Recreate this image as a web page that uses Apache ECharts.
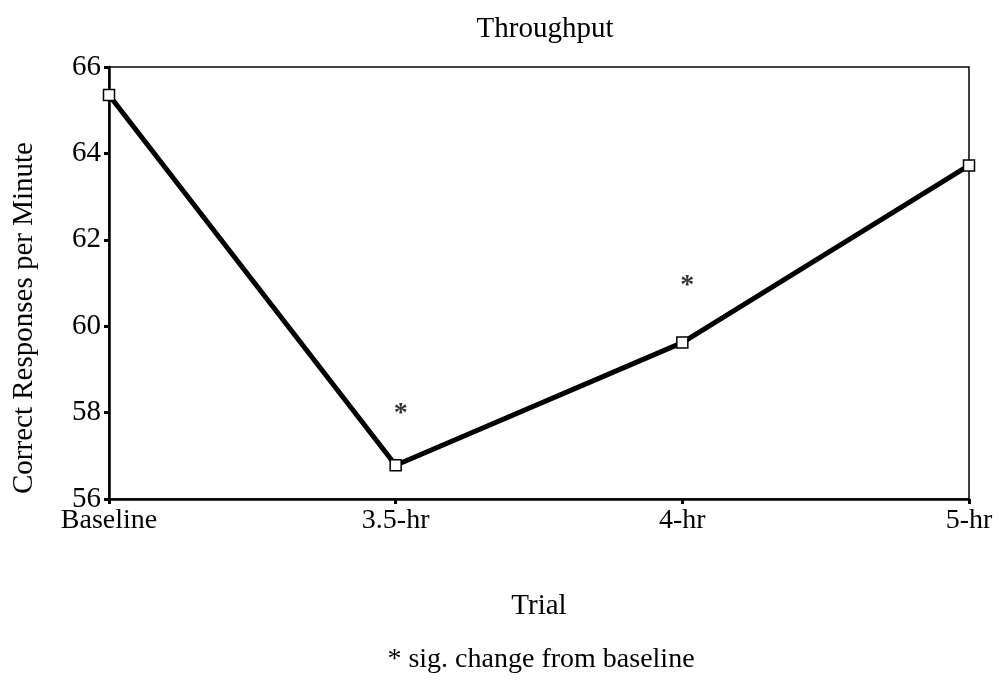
<!DOCTYPE html>
<html>
<head>
<meta charset="utf-8">
<script src="https://cdn.jsdelivr.net/npm/echarts@6/dist/echarts.min.js"></script>
<style>
  html, body { margin: 0; padding: 0; background: #fff; }
  #chart { width: 999px; height: 681px; }
</style>
</head>
<body>
<div id="chart"></div>
<script>
const trials = ['Baseline', '3.5-hr', '4-hr', '5-hr'];
const throughput = [65.35, 56.78, 59.62, 63.72];
// asterisks marking significant change from baseline
const sigMarks = [null, 58.1, 61.05, null];
const yTicks = [56, 58, 60, 62, 64, 66];

const serif = '"Liberation Serif", "DejaVu Serif", serif';

const chart = echarts.init(document.getElementById('chart'));

chart.setOption({
  backgroundColor: '#fff',
  animation: false,
  title: {
    text: 'Throughput',
    left: 540,
    top: 10,
    textAlign: 'center',
    textStyle: { fontFamily: serif, fontSize: 29, fontWeight: 'normal', color: '#000' },
  },
  grid: {
    left: 109,
    right: 30,
    top: 67,
    bottom: 182,
    show: true,
    borderColor: '#000',
    borderWidth: 1.5,
  },
  xAxis: {
    type: 'category',
    data: trials,
    boundaryGap: false,
    name: 'Trial',
    nameLocation: 'middle',
    nameGap: 93,
    nameTextStyle: { fontFamily: serif, fontSize: 29, color: '#000' },
    axisLine: { lineStyle: { color: '#000', width: 2.5 } },
    axisTick: { show: true, length: 5, lineStyle: { color: '#000', width: 3 } },
    axisLabel: { fontFamily: serif, fontSize: 28, color: '#000', margin: 8 },
    splitLine: { show: false },
  },
  yAxis: {
    type: 'value',
    min: yTicks[0],
    max: yTicks[yTicks.length - 1],
    interval: 2,
    name: 'Correct Responses per Minute',
    nameLocation: 'middle',
    nameGap: 70,
    nameTextStyle: { fontFamily: serif, fontSize: 29, color: '#000', padding: [0, 70, 0, 0] },
    axisLine: { show: true, lineStyle: { color: '#000', width: 2.5 } },
    axisTick: { show: true, length: 5, lineStyle: { color: '#000', width: 3 } },
    axisLabel: { fontFamily: serif, fontSize: 29, color: '#000', margin: 8 },
    splitLine: { show: false },
  },
  series: [
    {
      type: 'line',
      data: throughput,
      symbol: 'rect',
      symbolSize: 11,
      showAllSymbol: true,
      lineStyle: { color: '#000', width: 5 },
      itemStyle: { color: '#fff', borderColor: '#000', borderWidth: 1.5 },
      z: 3,
    },
    {
      type: 'scatter',
      data: sigMarks,
      symbolSize: 0,
      silent: true,
      label: {
        show: true,
        formatter: '*',
        position: 'inside',
        offset: [5, 5],
        fontFamily: serif,
        fontSize: 28,
        fontWeight: 'bold',
        color: '#000',
      },
    },
  ],
  graphic: [
    {
      type: 'text',
      x: 541,
      y: 660,
      style: {
        text: '* sig. change from baseline',
        font: '28px ' + serif,
        fill: '#000',
        align: 'center',
        verticalAlign: 'middle',
      },
    },
  ],
});
</script>
</body>
</html>
